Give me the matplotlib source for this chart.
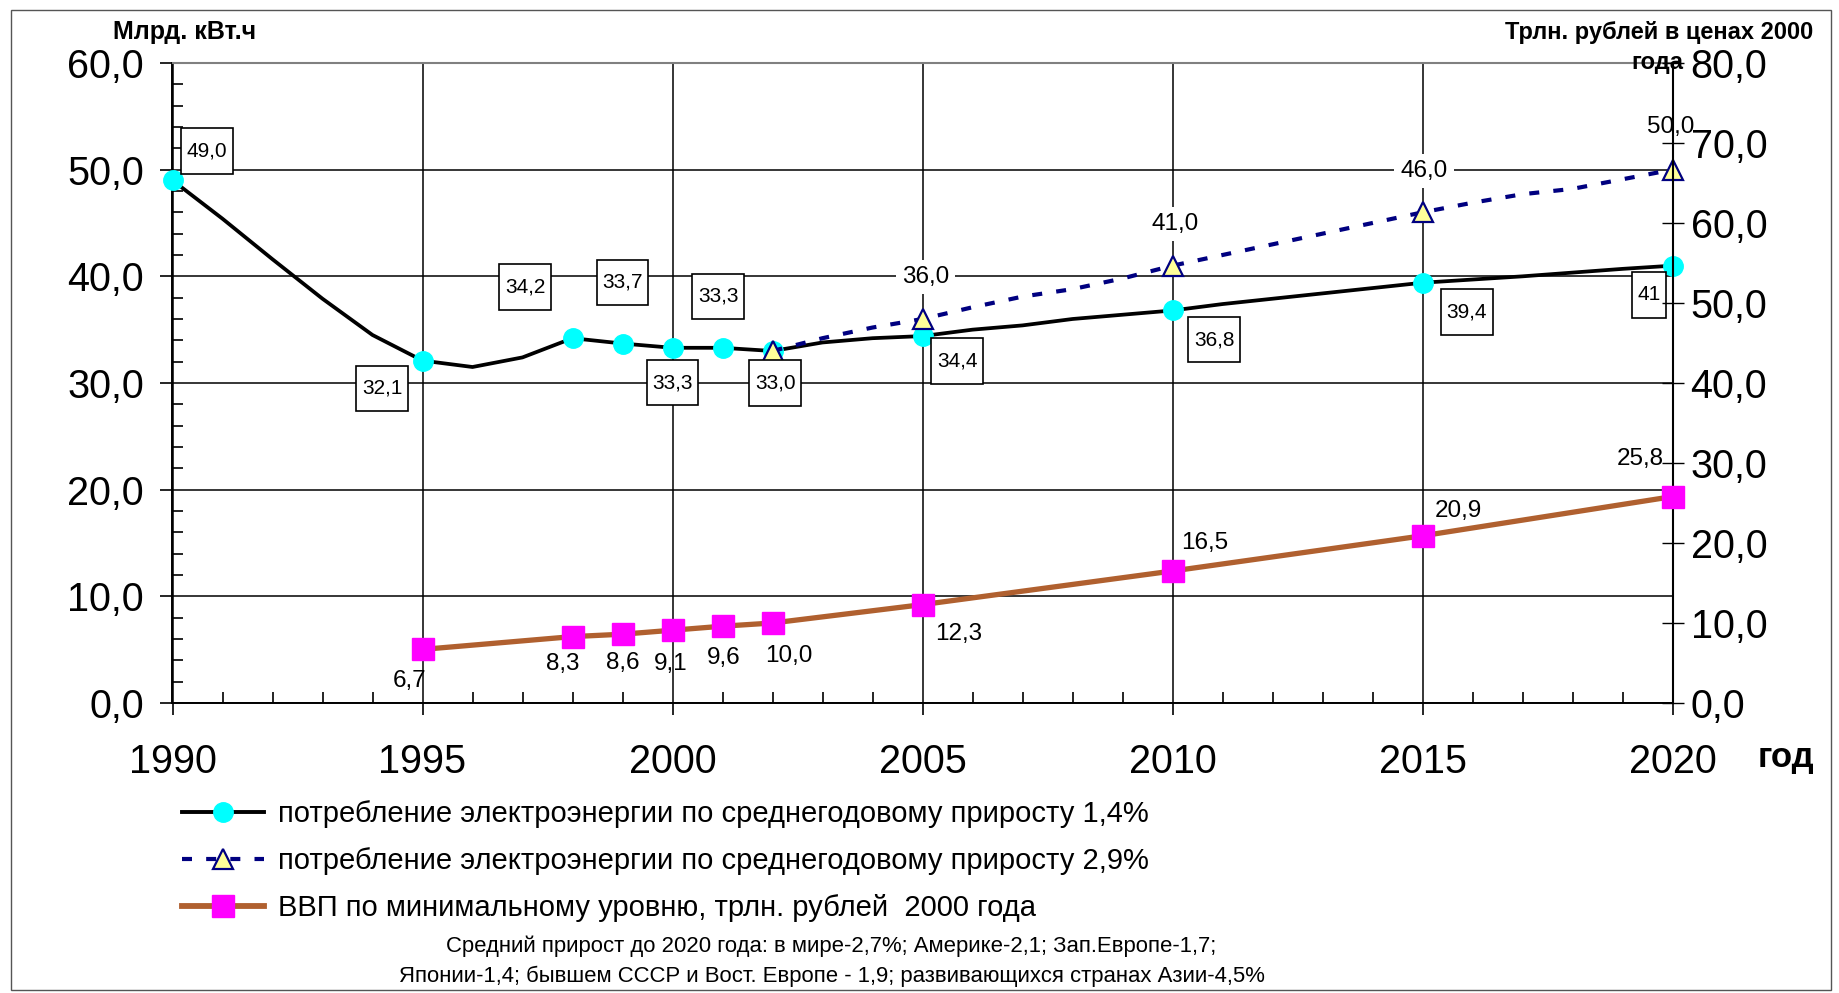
import matplotlib
matplotlib.use('Agg')
import matplotlib.pyplot as plt
from matplotlib.ticker import MultipleLocator, FuncFormatter
from matplotlib.lines import Line2D
from matplotlib.patches import Rectangle
from matplotlib.path import Path

plt.rcParams['font.family'] = ['Liberation Sans', 'DejaVu Sans']

# --- data ---
years = list(range(1990, 2021))
cons_14 = [49.0, 45.4, 41.6, 37.9, 34.5, 32.1, 31.5, 32.4, 34.2, 33.7, 33.3, 33.3, 33.0,
           33.8, 34.2, 34.4, 35.0, 35.4, 36.0, 36.4, 36.8, 37.4, 37.9, 38.4, 38.9, 39.4,
           39.7, 40.0, 40.35, 40.7, 41.0]
cons_14_marked = [1990, 1995, 1998, 1999, 2000, 2001, 2002, 2005, 2010, 2015, 2020]
cons_14_labels = ['49,0', '32,1', '34,2', '33,7', '33,3', '33,3', '33,0', '34,4', '36,8', '39,4', '41']

years_29 = list(range(2002, 2021))
cons_29 = [33.0, 34.2, 35.2, 36.0, 37.1, 38.1, 38.8, 39.8, 41.0, 42.0, 43.0, 44.0, 45.0,
           46.0, 46.9, 47.7, 48.2, 49.1, 50.0]
cons_29_marked = [2002, 2005, 2010, 2015, 2020]
cons_29_label_years = [2005, 2010, 2015, 2020]
cons_29_labels = ['36,0', '41,0', '46,0', '50,0']

gdp_years = [1995, 1998, 1999, 2000, 2001, 2002, 2005, 2010, 2015, 2020]
gdp = [6.7, 8.3, 8.6, 9.1, 9.6, 10.0, 12.3, 16.5, 20.9, 25.8]
gdp_labels = ['6,7', '8,3', '8,6', '9,1', '9,6', '10,0', '12,3', '16,5', '20,9', '25,8']

leg_labels = ['потребление электроэнергии по среднегодовому приросту 1,4%',
              'потребление электроэнергии по среднегодовому приросту 2,9%',
              'ВВП по минимальному уровню, трлн. рублей  2000 года']
note = ['Средний прирост до 2020 года: в мире-2,7%; Америке-2,1; Зап.Европе-1,7;',
        'Японии-1,4; бывшем СССР и Вост. Европе - 1,9; развивающихся странах Азии-4,5%']

# label offsets in points
off_14 = [(25, 21), (-29, -20), (-34, 37), (0, 44), (0, -25), (-3, 37), (2, -23),
          (25, -18), (30, -21), (32, -21), (-17, -21)]
off_29 = [(2, 30), (2, 30), (1, 30), (-1, 31)]
off_gdp = [(-9, -23), (-7, -20), (0, -21), (-1, -24), (1, -23), (12, -24),
           (26, -21), (23, 20), (26, 18), (-23, 27)]

BROWN = '#B0602F'
NAVY = '#000080'
DASH = (0, (2.4, 3.4))


def tall_box(x0, y0, width, height, mutation_size):
    # excel-like label box: narrow side padding, tall top/bottom padding
    px = 0.27 * mutation_size
    py = 0.64 * mutation_size
    x0, x1 = x0 - px, x0 + width + px
    y0, y1 = y0 - py, y0 + height + py
    return Path([(x0, y0), (x1, y0), (x1, y1), (x0, y1), (x0, y0)], closed=True)


fig = plt.figure(figsize=(18.4, 9.93), dpi=100)
ax = fig.add_axes([172.5 / 1840, 1 - 703 / 993, 1500 / 1840, 640 / 993])
ax2 = ax.twinx()

fmt = FuncFormatter(lambda v, p: f'{v:.1f}'.replace('.', ','))

ax.set_xlim(1990, 2020)
ax.set_ylim(0, 60)
ax2.set_ylim(0, 80)

ax.xaxis.set_major_locator(MultipleLocator(5))
ax.xaxis.set_minor_locator(MultipleLocator(1))
ax.yaxis.set_major_locator(MultipleLocator(10))
ax.yaxis.set_minor_locator(MultipleLocator(2))
ax.yaxis.set_major_formatter(fmt)
ax2.yaxis.set_major_locator(MultipleLocator(10))
ax2.yaxis.set_major_formatter(fmt)

ax.grid(True, which='major', color='black', lw=1.1, zorder=0)
ax.set_axisbelow(True)

ax.tick_params(axis='x', which='major', direction='out', length=8.6, width=1.2,
               labelsize=28.5, pad=20)
ax.tick_params(axis='x', which='minor', direction='in', length=8, width=1.2)
ax.tick_params(axis='y', which='major', direction='out', length=8.6, width=1.2,
               labelsize=28.5, pad=12)
ax.tick_params(axis='y', which='minor', direction='in', length=8, width=1.2)
ax2.tick_params(axis='y', direction='inout', length=16, width=1, labelsize=28.5, pad=5)

for s in ['left', 'bottom']:
    ax.spines[s].set_linewidth(1.4)
ax.spines['right'].set_visible(False)
ax.spines['top'].set_color('#808080')
ax.spines['top'].set_linewidth(1.5)
for s in ['left', 'top', 'bottom']:
    ax2.spines[s].set_visible(False)
ax2.spines['right'].set_linewidth(1.5)

# series 1.4%
idx14 = [years.index(y) for y in cons_14_marked]
ax.plot(years, cons_14, color='black', lw=2.7, marker='o', markevery=idx14,
        ms=14, mfc='#00FFFF', mec='#00FFFF', zorder=3, clip_on=False)

# series 2.9%
idx29 = [years_29.index(y) for y in cons_29_marked]
ax.plot(years_29, cons_29, color=NAVY, lw=3.0, ls=DASH, marker='^',
        markevery=idx29, ms=15, mfc='#FFFF99', mec=NAVY, mew=1.6, zorder=4, clip_on=False)

# GDP on right axis
ax2.plot(gdp_years, gdp, color=BROWN, lw=3.8, marker='s', ms=16.5,
         mfc='#FF00FF', mec='#FF00FF', zorder=3, clip_on=False)

for yr, lab, off in zip(cons_14_marked, cons_14_labels, off_14):
    v = cons_14[years.index(yr)]
    ax.annotate(lab, (yr, v), xytext=off, textcoords='offset points', ha='center',
                va='center', fontsize=15, zorder=6,
                bbox=dict(boxstyle=tall_box, fc='white', ec='black', lw=1.2))

for yr, lab, off in zip(cons_29_label_years, cons_29_labels, off_29):
    v = cons_29[years_29.index(yr)]
    ax.annotate(lab, (yr, v), xytext=off, textcoords='offset points', ha='center',
                va='center', fontsize=17.5, zorder=6,
                bbox=dict(boxstyle='square,pad=0.25', fc='white', ec='none'))

for yr, v, lab, off in zip(gdp_years, gdp, gdp_labels, off_gdp):
    ax2.annotate(lab, (yr, v), xytext=off, textcoords='offset points', ha='center',
                 va='center', fontsize=17.5, zorder=6)

# axis titles
fig.text(185 / 1840, 1 - 32 / 993, 'Млрд. кВт.ч', ha='center', va='center',
         fontsize=18, fontweight='bold')
fig.text(1659 / 1840, 1 - 32 / 993, 'Трлн. рублей в ценах 2000', ha='center',
         va='center', fontsize=17, fontweight='bold')
fig.text(1657 / 1840, 1 - 62 / 993, 'года', ha='center',
         va='center', fontsize=17, fontweight='bold')
fig.text(1786 / 1840, 1 - 757 / 993, 'год', ha='center', va='center',
         fontsize=25, fontweight='bold')

# legend
handles = [
    Line2D([], [], color='black', lw=2.8, marker='o', ms=14, mfc='#00FFFF', mec='#00FFFF'),
    Line2D([], [], color=NAVY, lw=3.0, ls=DASH, marker='^', ms=15,
           mfc='#FFFF99', mec=NAVY, mew=1.6),
    Line2D([], [], color=BROWN, lw=4.2, marker='s', ms=16.5, mfc='#FF00FF', mec='#FF00FF'),
]
fig.legend(handles, leg_labels, loc='upper left', bbox_to_anchor=(182 / 1840, 1 - 800 / 993),
           frameon=False, fontsize=21, handlelength=2.8, handletextpad=0.48,
           labelspacing=0.66, borderpad=0, borderaxespad=0, numpoints=1)

fig.text(831 / 1840, 1 - 946 / 993, note[0], ha='center', va='center', fontsize=15.9)
fig.text(832 / 1840, 1 - 976 / 993, note[1], ha='center', va='center', fontsize=15.9)

fig.patches.append(Rectangle((11 / 1840, 3 / 993), 1820 / 1840, 980 / 993,
                             transform=fig.transFigure, fill=False, ec='#555555', lw=1))

fig.savefig('out.png', dpi=100)
